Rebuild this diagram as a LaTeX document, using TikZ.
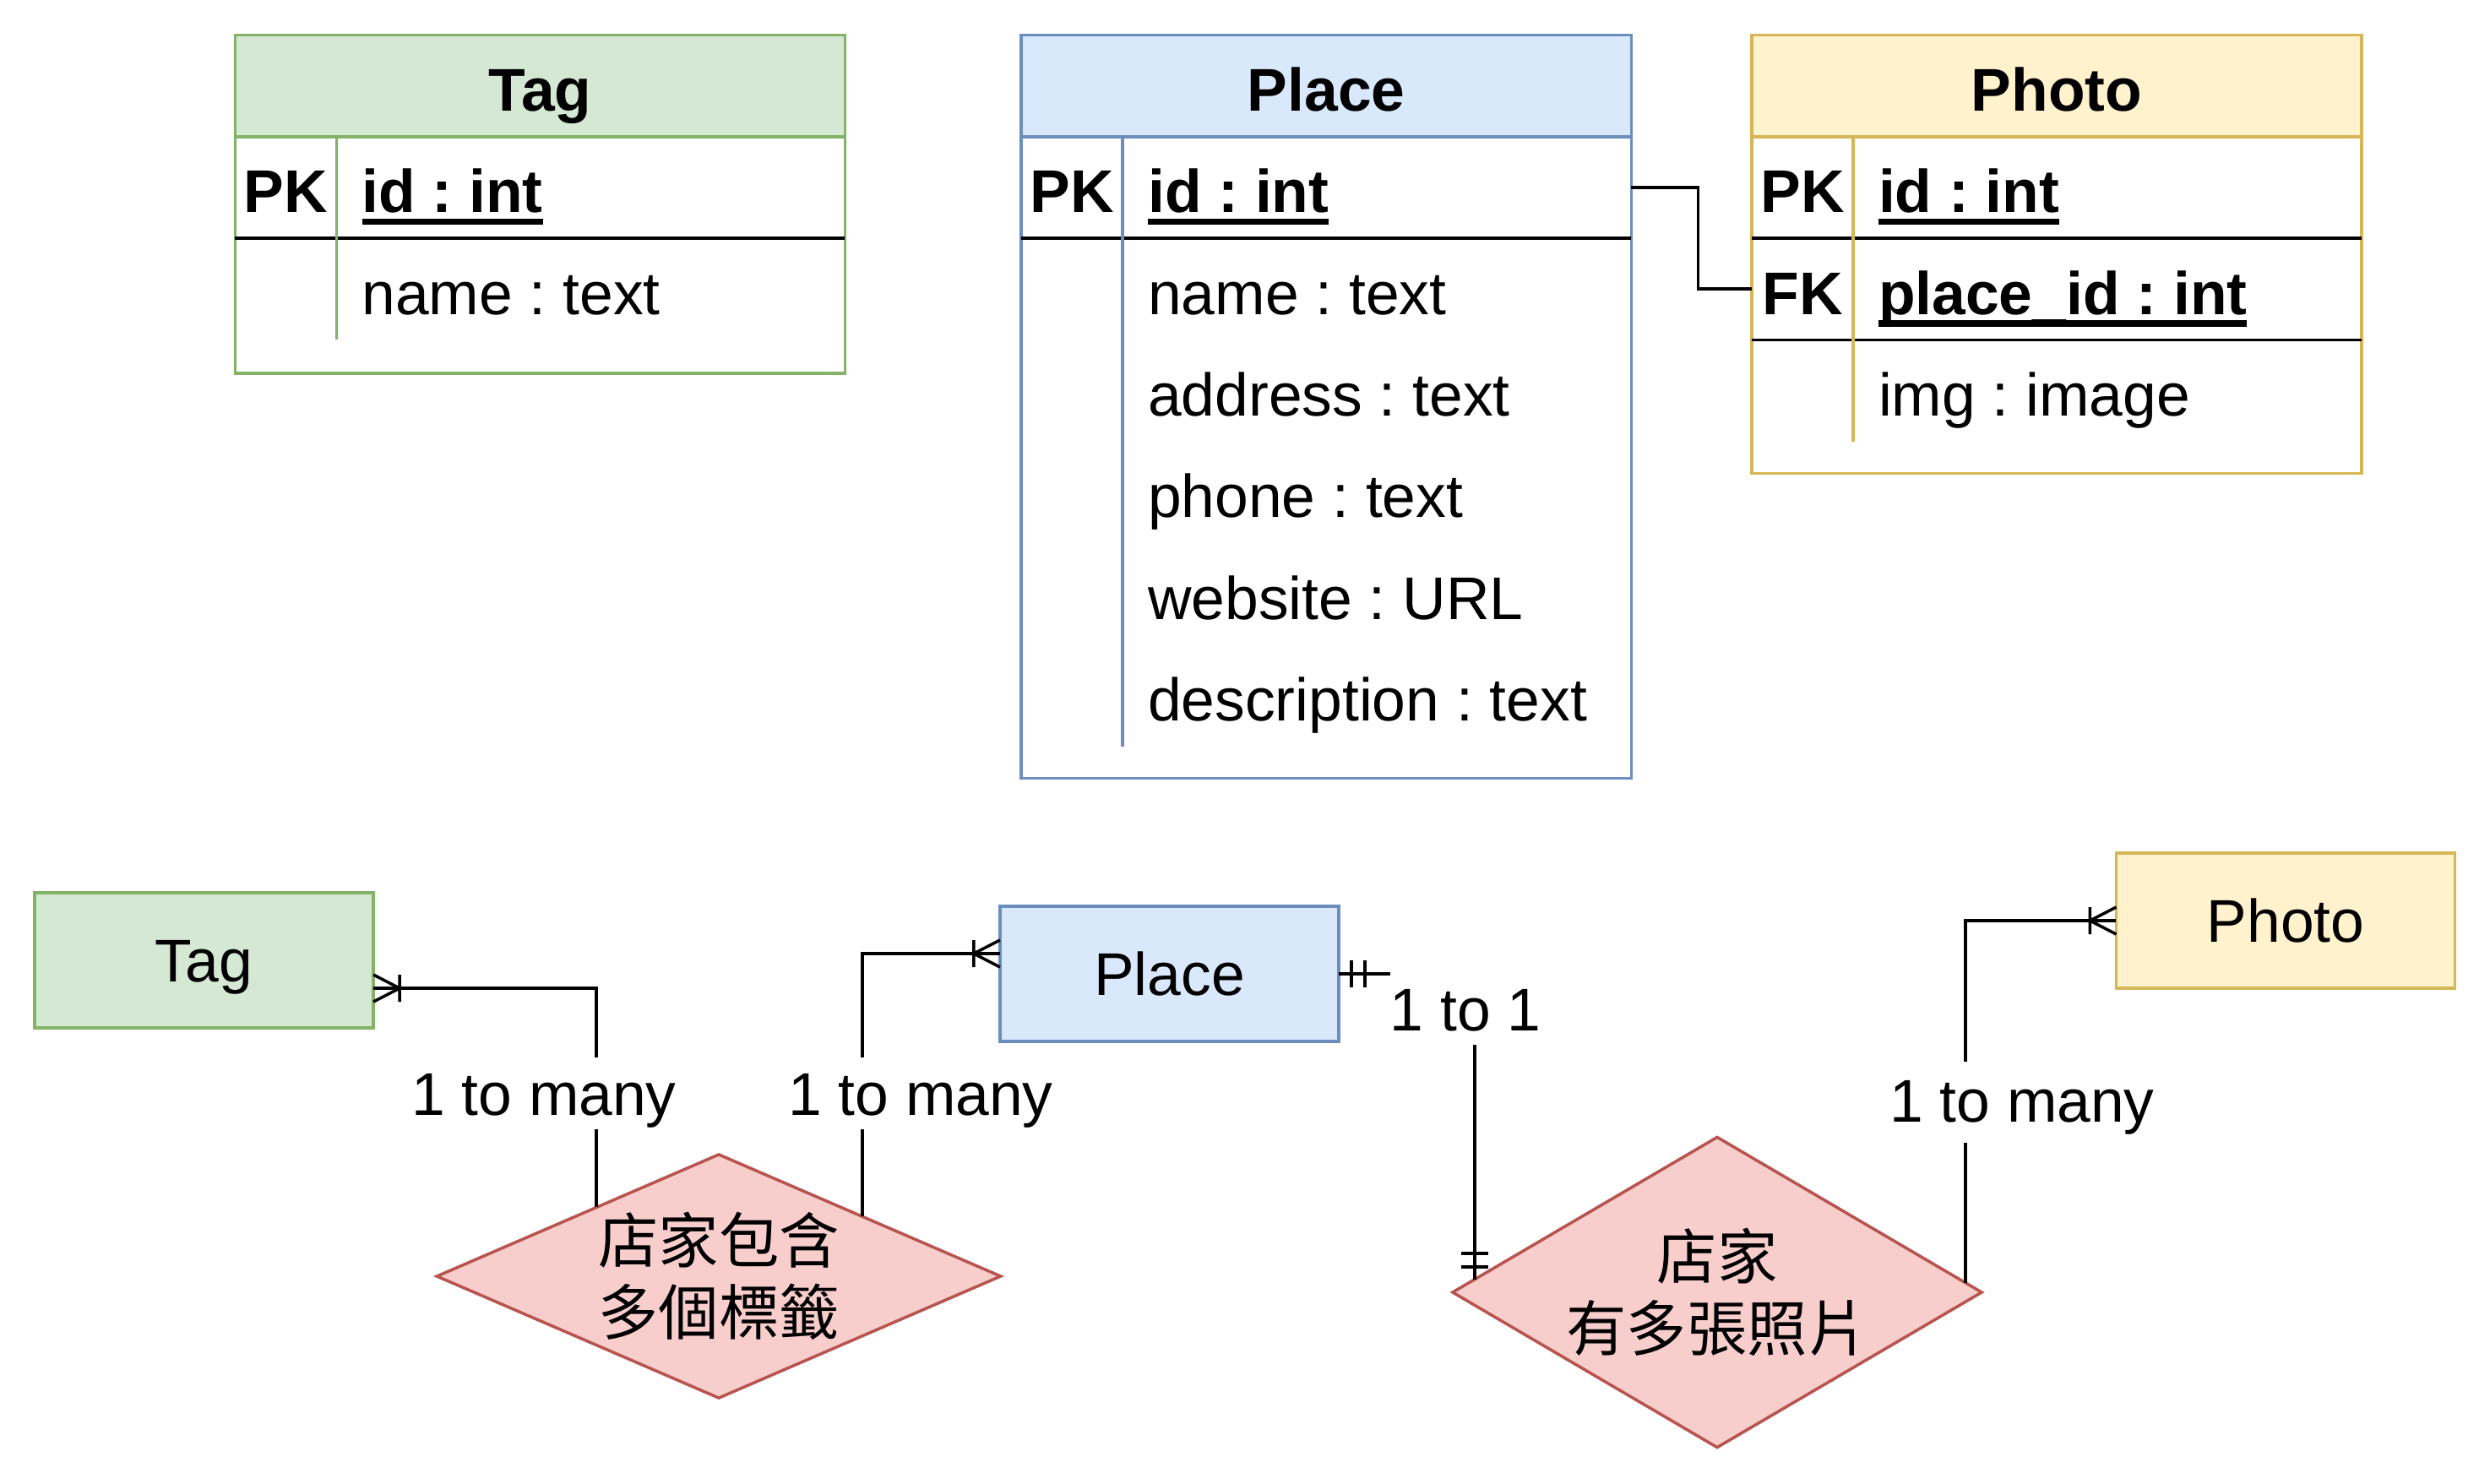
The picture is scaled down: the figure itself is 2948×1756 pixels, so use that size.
\documentclass[tikz,border=0pt]{standalone}
\usepackage{fontspec}
\setmainfont{Liberation Sans}
\newfontfamily\cjk{Noto Sans CJK TC}
\usetikzlibrary{shapes.geometric,calc}
\definecolor{tagfill}{HTML}{D5E8D4}\definecolor{tagline}{HTML}{82B366}
\definecolor{placefill}{HTML}{DAE8FC}\definecolor{placeline}{HTML}{6C8EBF}
\definecolor{photofill}{HTML}{FFF2CC}\definecolor{photoline}{HTML}{D6B656}
\definecolor{relfill}{HTML}{F8CECC}\definecolor{relline}{HTML}{B85450}
\newcommand{\keyfield}[1]{\setbox0\hbox{\bfseries #1}\rlap{\rule[-0.2em]{\wd0}{0.1em}}\box0}
\frenchspacing
\begin{document}
\begin{tikzpicture}[x=0.01cm, y=-0.01cm, line width=1pt,
    every node/.style={font=\fontsize{20.3}{24.4}\selectfont, inner sep=0pt, outer sep=0pt},
    mid/.style={text height=0.7cm, text depth=0.1cm},
    body/.style={draw, fill=white, anchor=north west, minimum width=7.22cm},
    head/.style={draw, mid, anchor=north west, minimum width=7.22cm, minimum height=1.203cm,
        font=\fontsize{20.3}{24.4}\selectfont\bfseries},
    cell/.style={mid, anchor=west},
    keycol/.style={mid, font=\fontsize{20.3}{24.4}\selectfont\bfseries},
    entity/.style={draw, text height=0.7cm, text depth=0.2cm, minimum width=4.01cm, minimum height=1.6cm},
    rel/.style={diamond, draw=relline, fill=relfill, align=center,
        font=\fontsize{20.3}{24.3}\selectfont\cjk},
    card/.style={fill=white, anchor=base, text height=0.68cm, text depth=0.17cm},
    many/.pic={\draw (0,-16) -- (31,0) -- (0,16) (31,-16) -- (31,16);},
    mandone/.pic={\draw (15,-16) -- (15,16) (31,-16) -- (31,16);}
]
\useasboundingbox (0,0) rectangle (2948,1756);

% Tag table
\node[body, draw=tagline, minimum height=4.004cm] (tagtab) at (278.3,41.4) {};
\node[head, draw=tagline, fill=tagfill] (taghead) at (tagtab.north west) {Tag};
\draw (278.3,282) -- ++(722,0);
\draw[tagline] (398.6,161.7) -- (398.6,402.3);
\node[keycol] (tagpk) at (338.5,221.9) {PK};
\node[cell] (tagid) at (428.6,221.9) {\keyfield{id : int}};
\node[cell] (tagname) at (428.6,342.2) {name : text};

% Place table
\node[body, draw=placeline, minimum height=8.796cm] (placetab) at (1208.9,41.4) {};
\node[head, draw=placeline, fill=placefill] (placehead) at (placetab.north west) {Place};
\draw (1208.9,282) -- ++(722,0);
\draw[placeline] (1329.2,161.7) -- (1329.2,883.6);
\node[keycol] (placepk) at (1269,221.9) {PK};
\node[cell] (placeid) at (1359.2,221.9) {\keyfield{id : int}};
\foreach \name/\txt [count=\i] in {name/name : text, address/address : text,
    phone/phone : text, website/website : URL, desc/description : text}
  \node[cell] (place\name) at (1359.2,{221.9+120.3*\i}) {\txt};

% Photo table
\node[body, draw=photoline, minimum height=5.189cm] (phototab) at (2073.8,41.4) {};
\node[head, draw=photoline, fill=photofill] (photohead) at (phototab.north west) {Photo};
\draw (2073.8,282) -- ++(722,0);
\draw (2073.8,402.3) -- ++(722,0);
\draw[photoline] (2194.1,161.7) -- (2194.1,522.6);
\node[keycol] (photopk) at (2134,221.9) {PK};
\node[cell] (photoid) at (2224.1,221.9) {\keyfield{id : int}};
\node[keycol] (photofk) at (2134,342.2) {FK};
\node[cell] (photoplace) at (2224.1,342.2) {\keyfield{place\_id : int}};
\node[cell] (photoimg) at (2224.1,462.5) {img : image};

\draw (placetab.east |- placeid.center) -- ++(79,0) |- (phototab.west |- photoplace.center);

% ER diagram
\node[entity, draw=tagline, fill=tagfill] (tag) at (241.5,1137) {Tag};
\node[entity, draw=placeline, fill=placefill] (place) at (1384.5,1153) {Place};
\node[entity, draw=photoline, fill=photofill] (photo) at (2706,1090) {Photo};

\node[rel, aspect=2.32, minimum width=6.67cm, minimum height=2.88cm] (tagplace) at (851,1511)
    {店家包含\\多個標籤};
\node[rel, aspect=1.71, minimum width=6.26cm, minimum height=3.67cm] (placephoto) at (2033,1530)
    {店家\\有多張照片};

\coordinate (tagend) at ([yshift=-0.33cm]tag.east);
\coordinate (placeend) at ([yshift=0.24cm]place.west);
\draw (tagend) -| ($(tagplace.west)!0.566!(tagplace.north)$);
\draw (placeend) -| ($(tagplace.north)!0.51!(tagplace.east)$);
\draw (place.east) -| ($(placephoto.west)!0.083!(placephoto.north)$) coordinate (oneend);
\draw (photo.west) -| ($(placephoto.north)!0.939!(placephoto.east)$);

\pic at (tagend) {many};
\pic[rotate=180] at (placeend) {many};
\pic[rotate=180] at (photo.west) {many};
\pic at (place.east) {mandone};
\pic[rotate=90] at (oneend) {mandone};

\node[card] (lbltag) at (644,1320) {1 to many};
\node[card] (lblplace) at (1090,1320) {1 to many};
\node[card, text height=0.7cm] (lblone) at (1735,1220) {1 to 1};
\node[card, text height=0.71cm, text depth=0.25cm] (lblphoto) at (2394,1328) {1 to many};
\end{tikzpicture}
\end{document}
